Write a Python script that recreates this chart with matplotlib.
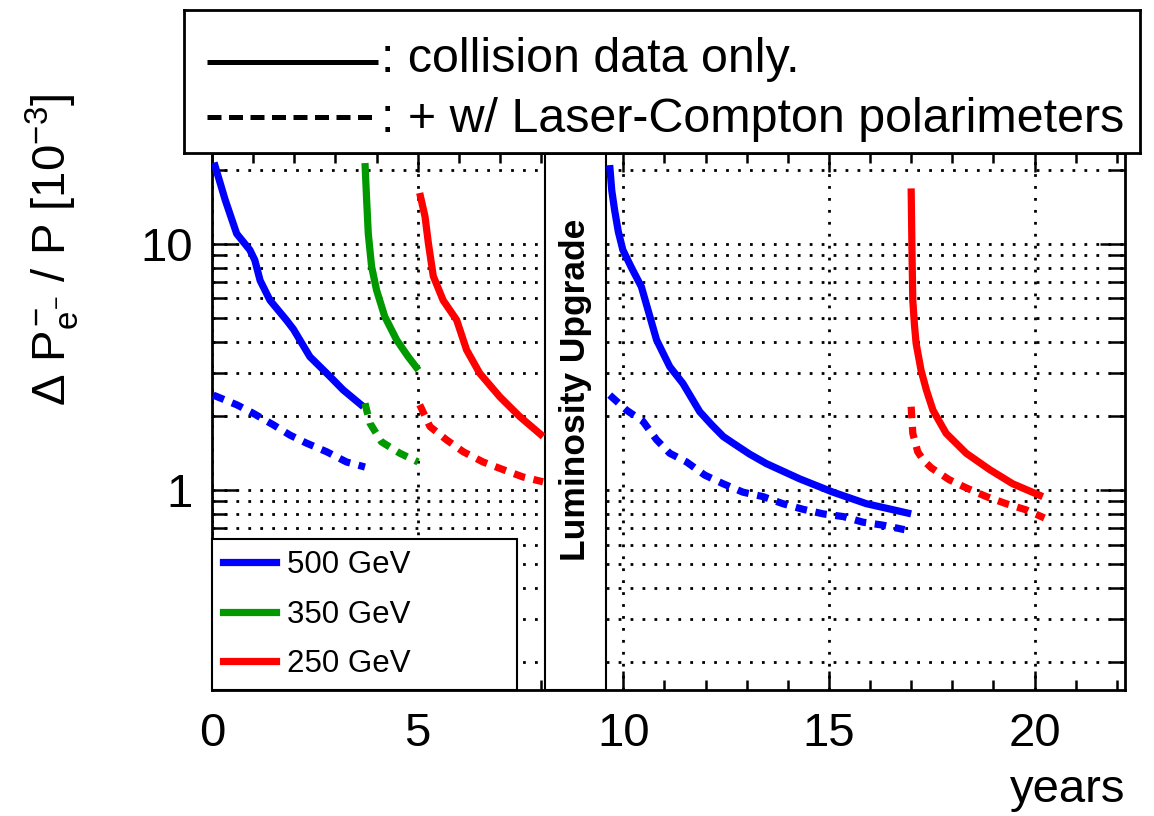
import matplotlib
matplotlib.use("Agg")
import matplotlib.pyplot as plt
from matplotlib.ticker import LogLocator, FixedLocator, NullFormatter, FixedFormatter
import numpy as np

plt.rcParams['font.family'] = ['Liberation Sans', 'DejaVu Sans']
plt.rcParams['mathtext.fontset'] = 'custom'
plt.rcParams['mathtext.rm'] = 'Liberation Sans'
plt.rcParams['mathtext.it'] = 'Liberation Sans'
plt.rcParams['mathtext.bf'] = 'Liberation Sans:bold'

# --- data (years, dP/P in 1e-3) ---
# 500 GeV, first running period
b1_t_solid = [0.05, 0.32, 0.60, 0.92, 1.04, 1.17, 1.41, 1.81, 1.98, 2.38, 2.87, 3.19, 3.68]
b1_solid = [21.4, 15.1, 11.0, 9.45, 8.6, 7.1, 5.9, 4.9, 4.5, 3.48, 2.89, 2.55, 2.18]
b1_t_dash = [0.03, 0.60, 1.00, 1.49, 1.90, 2.30, 2.79, 3.27, 3.72]
b1_dash = [2.43, 2.22, 2.05, 1.84, 1.67, 1.55, 1.43, 1.30, 1.24]

# 350 GeV
g_t_solid = [3.72, 3.76, 3.80, 3.88, 4.00, 4.20, 4.49, 4.77, 5.02]
g_solid = [21.3, 15.1, 11.0, 8.1, 6.5, 5.07, 4.07, 3.48, 3.07]
g_t_dash = [3.72, 3.84, 4.12, 4.57, 5.01]
g_dash = [2.25, 1.87, 1.57, 1.41, 1.30]

# 250 GeV, first running period
r1_t_solid = [5.05, 5.18, 5.26, 5.38, 5.62, 5.95, 6.19, 6.51, 7.0, 7.48, 8.05]
r1_solid = [16.1, 12.9, 10.1, 7.4, 5.9, 4.9, 3.71, 2.98, 2.39, 1.99, 1.65]
r1_t_dash = [5.05, 5.30, 5.70, 6.11, 6.59, 7.08, 7.56, 8.05]
r1_dash = [2.22, 1.81, 1.60, 1.43, 1.30, 1.21, 1.13, 1.08]

# 500 GeV after upgrade
b2_t_solid = [9.67, 9.72, 9.79, 9.88, 9.99, 10.2, 10.44, 10.60, 10.81, 11.13, 11.45, 11.86,
              12.15, 12.43, 12.67, 13.07, 13.48, 14.29, 15.1, 15.91, 17.0]
b2_solid = [20.9, 16.5, 13.7, 11.2, 9.45, 8.0, 6.7, 5.4, 4.07, 3.17, 2.71, 2.08,
            1.84, 1.65, 1.55, 1.40, 1.28, 1.11, 0.98, 0.88, 0.80]
b2_t_dash = [9.67, 10.08, 10.48, 10.81, 11.13, 11.54, 11.98, 12.43, 12.91, 13.40, 13.88,
             14.37, 14.86, 15.35, 15.83, 16.31, 16.84]
b2_dash = [2.43, 2.11, 1.90, 1.60, 1.41, 1.30, 1.15, 1.06, 0.98, 0.94, 0.88,
           0.835, 0.80, 0.78, 0.74, 0.72, 0.69]

# 250 GeV after upgrade
r2_t_solid = [17.0, 17.02, 17.04, 17.08, 17.12, 17.24, 17.37, 17.53, 17.85, 18.34, 18.91,
              19.47, 20.2]
r2_solid = [16.8, 9.45, 5.9, 4.7, 3.95, 3.07, 2.55, 2.11, 1.70, 1.41, 1.21,
            1.06, 0.94]
r2_t_dash = [17.0, 17.04, 17.16, 17.30, 17.49, 17.93, 18.34, 18.83, 19.31, 19.80, 20.24]
r2_dash = [2.18, 1.70, 1.43, 1.32, 1.23, 1.10, 1.02, 0.94, 0.88, 0.83, 0.77]

upgrade_span = (8.09, 9.59)
energy_labels = ["500 GeV", "350 GeV", "250 GeV"]
colors = ["#0000ff", "#009900", "#ff0000"]

fig = plt.figure(figsize=(11.54, 8.16), dpi=100)
ax = fig.add_axes([212/1154, 1-690/816, (1125-212)/1154, (690-153)/816])

lw = 5.2
dash = (0, (1.6, 1.2))

segments = [
    (b1_t_solid, b1_solid, b1_t_dash, b1_dash, colors[0]),
    (g_t_solid, g_solid, g_t_dash, g_dash, colors[1]),
    (r1_t_solid, r1_solid, r1_t_dash, r1_dash, colors[2]),
    (b2_t_solid, b2_solid, b2_t_dash, b2_dash, colors[0]),
    (r2_t_solid, r2_solid, r2_t_dash, r2_dash, colors[2]),
]
for ts, vs, td, vd, c in segments:
    ax.plot(ts, vs, color=c, lw=lw, solid_capstyle='butt', solid_joinstyle='round', zorder=3)
    ax.plot(td, vd, color=c, lw=lw, linestyle=dash, zorder=3)

ax.set_yscale('log')
ax.set_xlim(0, 22.2)
ax.set_ylim(0.154, 23.4)

# grid: dotted, all decade subdivisions on y, major on x
ax.yaxis.set_major_locator(FixedLocator([1, 10]))
ax.yaxis.set_major_formatter(FixedFormatter(["1", "10"]))
ax.yaxis.set_minor_locator(LogLocator(base=10, subs=np.arange(2, 10)))
ax.yaxis.set_minor_formatter(NullFormatter())
ax.xaxis.set_major_locator(FixedLocator([0, 5, 10, 15, 20]))
ax.xaxis.set_minor_locator(FixedLocator(np.arange(0, 23, 1)))
ax.grid(True, which='both', axis='y', color='black', linestyle=(0, (1, 3.3)), lw=2.0)
ax.grid(True, which='major', axis='x', color='black', linestyle=(0, (1, 3.3)), lw=2.0)
ax.set_axisbelow(True)

ax.tick_params(which='both', direction='in', top=True, right=True, width=1.8, labelsize=34)
ax.tick_params(which='major', axis='y', length=18, pad=14)
ax.tick_params(which='minor', axis='y', length=11)
ax.tick_params(which='major', axis='x', length=14, pad=16)
ax.tick_params(which='minor', axis='x', length=7)
for s in ax.spines.values():
    s.set_linewidth(2)

# luminosity upgrade band
ax.axvspan(*upgrade_span, facecolor='white', edgecolor='black', lw=1.5, zorder=2)
ax.text(np.mean(upgrade_span), 2.55, "Luminosity Upgrade", rotation=90, ha='center',
        va='center', fontsize=25.5, fontweight='bold', zorder=4)

# energy legend
handles = [plt.Line2D([], [], color=c, lw=lw) for c in colors]
leg = ax.legend(handles, energy_labels, loc='lower left', fontsize=22.5, frameon=True,
                fancybox=False, framealpha=1, bbox_to_anchor=(0, 0, (517-212)/913, 0.3),
                mode='expand', borderaxespad=0, handlelength=1.7, handletextpad=0.35,
                labelspacing=0.62, borderpad=0.35, edgecolor='black')
leg.get_frame().set_linewidth(1.5)
leg.set_zorder(5)

ax.set_ylabel(r"$\Delta\ P^{-}_{e^{-}}$ / P [10$^{-3}$]", fontsize=34, labelpad=14)
ax.yaxis.set_label_coords(-0.143, 0.82)
fig.text(1125/1154, 1-790/816, "years", fontsize=34, ha='right', va='center')

# top legend box: line style meaning
lx = fig.add_axes([184/1154, 1-153/816, (1140-184)/1154, (153-10)/816])
lx.set_xlim(0, 1)
lx.set_ylim(0, 1)
lx.set_xticks([])
lx.set_yticks([])
for s in lx.spines.values():
    s.set_linewidth(2)
lx.plot([0.024, 0.203], [0.636, 0.636], color='black', lw=3.6, solid_capstyle='butt')
lx.plot([0.024, 0.203], [0.252, 0.252], color='black', lw=3.6, dashes=[2.8, 1.5])
lx.text(0.206, 0.566, ": collision data only.", fontsize=34.8, va='baseline')
lx.text(0.206, 0.147, ": + w/ Laser-Compton polarimeters", fontsize=34.8, va='baseline')

fig.savefig("out.png", dpi=100)
